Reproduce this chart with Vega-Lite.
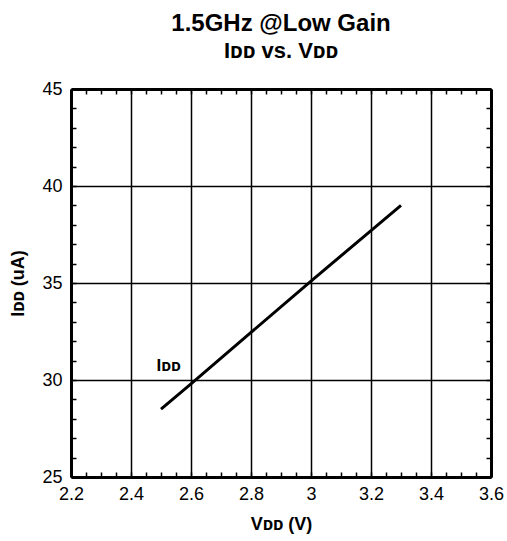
{
  "$schema": "https://vega.github.io/schema/vega-lite/v6.json",
  "width": 420,
  "height": 388,
  "autosize": {"type": "none"},
  "padding": {"left": 71, "top": 89, "right": 16, "bottom": 64},
  "background": "white",
  "config": {
    "view": {"stroke": null},
    "font": "Liberation Sans",
    "axis": {
      "domainColor": "black",
      "domainWidth": 3,
      "tickColor": "black",
      "tickWidth": 1.5,
      "tickSize": -5,
      "labelColor": "black",
      "labelFont": "Liberation Sans",
      "labelFontSize": 18,
      "titleFont": "Liberation Sans",
      "titleFontSize": 18,
      "titleFontWeight": "bold",
      "titleColor": "black",
      "gridColor": "black",
      "gridWidth": 1.5,
      "labelFlush": false,
      "labelOverlap": false
    }
  },
  "title": {
    "text": "1.5GHz @Low Gain",
    "subtitle": "Iᴅᴅ vs. Vᴅᴅ",
    "fontSize": 24,
    "subtitleFontSize": 22,
    "font": "Liberation Sans",
    "subtitleFont": "Liberation Sans",
    "fontWeight": "bold",
    "subtitleFontWeight": "bold",
    "color": "black",
    "subtitleColor": "black",
    "anchor": "middle",
    "offset": 18,
    "subtitlePadding": 5
  },
  "datasets": {
    "curve": [
      {"vdd": 2.5, "idd": 28.5},
      {"vdd": 2.6, "idd": 29.8},
      {"vdd": 2.8, "idd": 32.45},
      {"vdd": 3.0, "idd": 35.1},
      {"vdd": 3.2, "idd": 37.7},
      {"vdd": 3.3, "idd": 39.0}
    ],
    "labels": [
      {"vdd": 2.485, "idd": 30.45, "text": "Iᴅᴅ"}
    ]
  },
  "layer": [
    {
      "data": {"name": "curve"},
      "mark": {"type": "line", "color": "black", "strokeWidth": 3},
      "encoding": {
        "x": {
          "field": "vdd",
          "type": "quantitative",
          "scale": {"domain": [2.2, 3.6], "nice": false, "zero": false},
          "axis": {
            "orient": "bottom",
            "title": "Vᴅᴅ (V)",
            "titlePadding": 12,
            "labelPadding": 13,
            "values": [2.2, 2.25, 2.3, 2.35, 2.4, 2.45, 2.5, 2.55, 2.6, 2.65, 2.7, 2.75, 2.8, 2.85, 2.9, 2.95, 3.0, 3.05, 3.1, 3.15, 3.2, 3.25, 3.3, 3.35, 3.4, 3.45, 3.5, 3.55, 3.6],
            "format": "~g",
            "labelExpr": "abs(round(datum.value*5) - datum.value*5) < 0.001 ? datum.label : ''",
            "grid": true,
            "gridOpacity": {"condition": {"test": "abs(round(datum.value*5) - datum.value*5) < 0.001", "value": 1}, "value": 0}
          }
        },
        "y": {
          "field": "idd",
          "type": "quantitative",
          "scale": {"domain": [25, 45], "nice": false, "zero": false},
          "axis": {
            "orient": "left",
            "title": "Iᴅᴅ (uA)",
            "titlePadding": 14,
            "labelPadding": 14,
            "values": [25, 26, 27, 28, 29, 30, 31, 32, 33, 34, 35, 36, 37, 38, 39, 40, 41, 42, 43, 44, 45],
            "labelExpr": "datum.value % 5 == 0 ? datum.label : ''",
            "grid": true,
            "gridOpacity": {"condition": {"test": "datum.value % 5 == 0", "value": 1}, "value": 0}
          }
        }
      }
    },
    {
      "data": {"name": "labels"},
      "mark": {"type": "text", "align": "left", "baseline": "alphabetic", "font": "Liberation Sans", "fontSize": 17, "fontWeight": "bold", "color": "black"},
      "encoding": {
        "x": {"field": "vdd", "type": "quantitative", "axis": {
            "orient": "top", "title": null, "labels": false, "grid": false,
            "values": [2.2, 2.25, 2.3, 2.35, 2.4, 2.45, 2.5, 2.55, 2.6, 2.65, 2.7, 2.75, 2.8, 2.85, 2.9, 2.95, 3.0, 3.05, 3.1, 3.15, 3.2, 3.25, 3.3, 3.35, 3.4, 3.45, 3.5, 3.55, 3.6]}},
        "y": {"field": "idd", "type": "quantitative", "axis": {
            "orient": "right", "title": null, "labels": false, "grid": false,
            "values": [25, 26, 27, 28, 29, 30, 31, 32, 33, 34, 35, 36, 37, 38, 39, 40, 41, 42, 43, 44, 45]}},
        "text": {"field": "text"}
      }
    }
  ],
  "resolve": {"axis": {"x": "independent", "y": "independent"}}
}
